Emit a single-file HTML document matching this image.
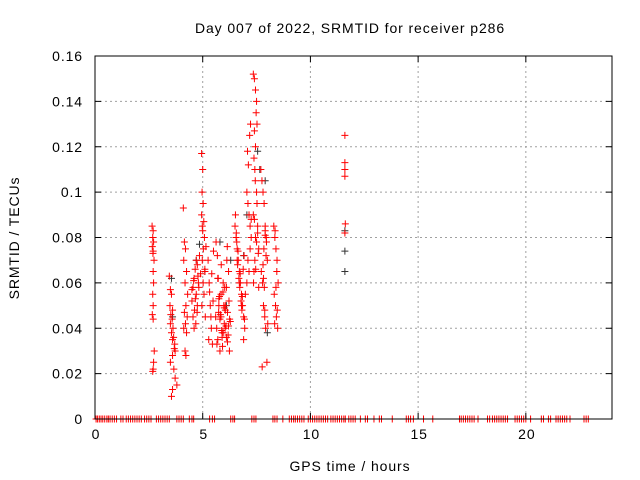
<!DOCTYPE html>
<html><head><meta charset="utf-8"><style>
body{margin:0;background:#fff;}
svg{display:block;font-family:"Liberation Sans",sans-serif;}
text{letter-spacing:0.9px;}
</style></head><body>
<svg id="chart" width="640" height="480">
<rect width="640" height="480" fill="#fff"/>
<text x="350" y="33" font-size="14" text-anchor="middle">Day 007 of 2022, SRMTID for receiver p286</text>
<text x="350" y="471" font-size="14" text-anchor="middle">GPS time / hours</text>
<text transform="translate(19,238) rotate(-90)" font-size="14" text-anchor="middle">SRMTID / TECUs</text>
<g id="grid"></g><g id="pts"></g><g id="axes"></g>
</svg>
<script>
const xTicks=[0,5,10,15,20];
const yTicks=[0,0.02,0.04,0.06,0.08,0.1,0.12,0.14,0.16];
const yTickLabels=["0","0.02","0.04","0.06","0.08","0.1","0.12","0.14","0.16"];
const zeroHours=[0.05,0.12,0.2,0.28,0.36,0.45,0.55,0.62,0.7,0.8,0.9,1.0,1.2,1.3,1.45,1.55,1.65,1.75,1.85,1.95,2.05,2.15,2.3,2.4,2.5,2.6,2.85,2.95,3.05,3.15,3.25,3.35,3.45,3.8,3.9,4.0,4.1,4.38,4.5,4.58,5.32,5.45,5.55,6.3,6.4,6.48,7.28,7.38,7.47,8.26,8.35,8.45,8.72,9.02,9.12,9.22,9.3,9.4,9.5,9.6,9.7,9.9,10.0,10.1,10.2,10.3,10.4,10.5,10.6,10.7,10.8,10.95,11.05,11.15,11.25,11.35,11.45,11.55,11.62,11.78,11.88,11.98,12.08,12.32,12.55,12.65,12.95,13.2,13.3,13.8,14.45,14.55,14.65,14.78,15.25,15.68,16.92,17.0,17.1,17.2,17.3,17.4,17.5,17.6,17.78,18.22,18.32,18.45,18.55,18.65,18.75,18.85,18.95,19.05,19.15,19.5,19.6,19.7,19.8,19.9,20.0,20.22,20.72,20.82,21.05,21.15,21.4,21.5,21.6,21.7,21.8,21.9,22.05,22.7,22.8,22.9];
const redX=[2.65,2.7,2.68,2.72,2.66,2.7,2.69,2.74,2.7,2.72,2.68,2.7,2.66,2.7,2.75,2.72,2.7,2.68,
3.45,3.5,3.55,3.48,3.6,3.52,3.58,3.5,3.62,3.55,3.65,3.6,3.7,3.68,3.72,3.6,3.5,3.66,3.72,3.8,3.6,3.55,
4.1,4.15,4.2,4.12,4.25,4.18,4.3,4.22,4.15,4.28,4.2,4.12,4.25,4.18,4.22,
4.5,4.55,4.6,4.65,4.7,4.75,4.8,4.55,4.62,4.7,4.78,4.85,4.6,4.68,4.75,4.5,4.58,4.66,4.74,4.82,4.9,
4.95,5.0,4.97,5.02,4.95,5.05,4.98,5.0,5.08,5.03,4.98,5.1,5.02,5.06,4.96,5.12,5.15,5.1,
5.25,5.3,5.35,5.4,5.28,5.45,5.32,5.38,5.5,5.42,5.48,
5.6,5.65,5.7,5.75,5.8,5.85,5.9,5.95,6.0,6.05,6.1,6.15,6.2,6.25,5.62,5.68,5.72,5.78,5.82,5.88,5.92,5.98,6.02,6.08,6.12,6.18,6.22,6.28,5.66,5.74,5.86,5.94,6.04,6.14,6.24,5.7,5.8,5.9,6.0,6.1,6.2,5.75,5.85,5.95,6.05,6.15,
6.5,6.55,6.6,6.65,6.7,6.75,6.8,6.85,6.9,6.95,6.52,6.58,6.62,6.68,6.72,6.78,6.82,6.88,6.92,6.98,6.56,6.64,6.74,6.84,6.94,6.6,6.7,6.8,6.9,
7.05,7.1,7.15,7.2,7.25,7.08,7.12,7.18,7.22,7.1,7.2,7.15,7.05,7.25,
7.35,7.4,7.45,7.5,7.48,7.52,7.4,7.45,7.38,7.42,7.5,7.35,7.55,7.45,7.6,7.42,7.38,7.5,7.55,7.46,7.58,7.36,7.6,7.44,7.52,7.4,
7.7,7.75,7.8,7.85,7.9,7.95,8.0,7.72,7.78,7.82,7.88,7.92,7.98,7.76,7.84,7.9,7.96,7.8,7.86,7.94,7.82,7.88,7.9,8.02,
8.3,8.35,8.4,8.45,8.5,8.32,8.38,8.42,8.48,8.36,8.44,8.4,8.46,8.34,
11.6,11.6,11.6,11.6,11.62,11.6];
const redY=[0.085,0.083,0.08,0.078,0.076,0.074,0.073,0.07,0.065,0.06,0.055,0.05,0.046,0.044,0.03,0.025,0.022,0.021,
0.063,0.057,0.055,0.05,0.048,0.046,0.044,0.042,0.04,0.038,0.036,0.035,0.033,0.031,0.03,0.028,0.025,0.022,0.018,0.015,0.013,0.01,
0.093,0.078,0.075,0.07,0.065,0.06,0.055,0.05,0.047,0.045,0.042,0.04,0.038,0.03,0.028,
0.052,0.058,0.062,0.066,0.07,0.068,0.06,0.045,0.048,0.055,0.063,0.072,0.04,0.042,0.05,0.057,0.061,0.053,0.047,0.058,0.064,
0.117,0.11,0.1,0.095,0.09,0.087,0.085,0.083,0.08,0.075,0.07,0.065,0.06,0.055,0.05,0.045,0.076,0.066,
0.07,0.06,0.05,0.04,0.035,0.033,0.056,0.045,0.074,0.064,0.052,
0.045,0.04,0.035,0.05,0.03,0.055,0.038,0.06,0.042,0.048,0.036,0.034,0.065,0.044,0.078,0.072,0.062,0.054,0.046,0.039,0.032,0.05,0.058,0.041,0.07,0.037,0.052,0.043,0.033,0.047,0.068,0.056,0.04,0.076,0.03,0.062,0.044,0.036,0.049,0.058,0.041,0.053,0.045,0.038,0.05,0.047,
0.085,0.08,0.075,0.07,0.065,0.06,0.055,0.05,0.045,0.04,0.09,0.078,0.068,0.062,0.058,0.052,0.048,0.066,0.072,0.055,0.082,0.074,0.064,0.054,0.044,0.07,0.06,0.05,0.035,
0.1,0.095,0.09,0.085,0.08,0.118,0.112,0.125,0.13,0.07,0.075,0.065,0.06,0.088,
0.152,0.15,0.145,0.14,0.135,0.13,0.127,0.12,0.115,0.11,0.1,0.09,0.085,0.08,0.075,0.07,0.065,0.078,0.082,0.066,0.073,0.06,0.058,0.105,0.095,0.088,
0.11,0.105,0.1,0.095,0.085,0.08,0.07,0.065,0.06,0.05,0.045,0.04,0.025,0.023,0.075,0.083,0.078,0.068,0.058,0.072,0.062,0.048,0.081,0.042,
0.085,0.08,0.075,0.07,0.06,0.055,0.05,0.045,0.04,0.083,0.065,0.058,0.048,0.042,
0.125,0.113,0.11,0.107,0.086,0.082];
const darkX=[3.55,3.6,4.7,4.85,5.1,5.8,6.1,6.3,6.9,7.05,7.55,7.65,7.9,8.0,11.6,11.6,11.6];
const darkY=[0.062,0.045,0.07,0.077,0.065,0.078,0.05,0.07,0.072,0.09,0.118,0.11,0.105,0.038,0.083,0.074,0.065];
const L=95,R=612,T=56,B=419;
const sx=h=>L+h/24*(R-L), sy=v=>B-v/0.16*(B-T);
const NS="http://www.w3.org/2000/svg";
function mk(tag,attrs,parent){const e=document.createElementNS(NS,tag);for(const k in attrs)e.setAttribute(k,attrs[k]);parent.appendChild(e);return e;}
const grid=document.getElementById('grid'),axes=document.getElementById('axes'),pts=document.getElementById('pts');
xTicks.forEach(t=>{const x=sx(t);
 if(t>0){const g=mk('line',{x1:x,x2:x,y1:T,y2:B,stroke:'#a0a0a0','stroke-dasharray':'2,3'},grid);
 
 }
 mk('line',{x1:x,x2:x,y1:B,y2:B-6,stroke:'#000'},axes);mk('line',{x1:x,x2:x,y1:T,y2:T+6,stroke:'#000'},axes);
 const tx=mk('text',{x:x+1,y:B+20,'font-size':14,'text-anchor':'middle'},axes);tx.textContent=t;
 
 });
yTicks.forEach((t,i)=>{const y=sy(t);
 if(i>0&&i<yTicks.length-1){const g=mk('line',{x1:L,x2:R,y1:y,y2:y,stroke:'#a0a0a0','stroke-dasharray':'2,3'},grid);
 
 }
 mk('line',{x1:L,x2:L+6,y1:y,y2:y,stroke:'#000'},axes);mk('line',{x1:R,x2:R-6,y1:y,y2:y,stroke:'#000'},axes);
 const tx=mk('text',{x:83,y:y+5,'font-size':14,'text-anchor':'end'},axes);tx.textContent=yTickLabels[i];
 
 });
const frame=mk('rect',{x:L,y:T,width:R-L,height:B-T,fill:'none',stroke:'#000'},axes);


function plus(x,y,c,name){const p=mk('path',{d:`M${x-3.5},${y}h7M${x},${y-3.5}v7`,stroke:c,'stroke-width':1,fill:'none'},pts);
 
 }
darkX.forEach((h,i)=>plus(sx(h),sy(darkY[i]),'#333','dark-point'));
redX.forEach((h,i)=>plus(sx(h),sy(redY[i]),'#ff0000','srmtid-point'));
zeroHours.forEach(h=>plus(sx(h),sy(0),'#ff0000','zero-point'));
</script>
</body></html>
